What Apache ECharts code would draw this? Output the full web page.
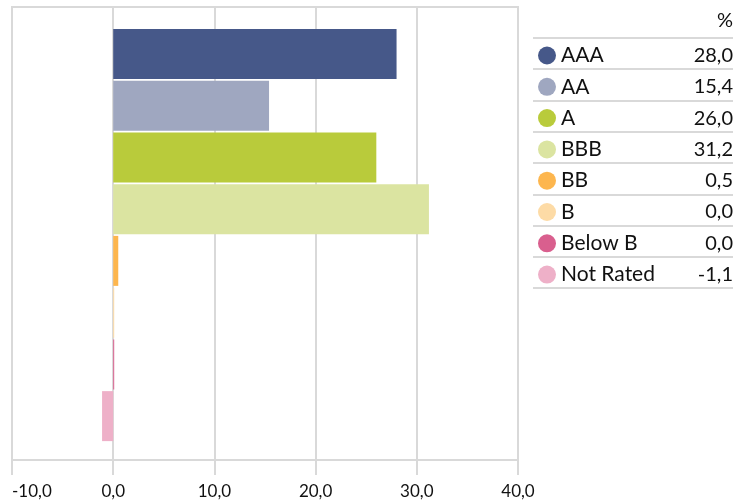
<!DOCTYPE html>
<html>
<head>
<meta charset="utf-8">
<script src="https://cdn.jsdelivr.net/npm/echarts@6/dist/echarts.min.js"></script>
<style>
  html, body { margin: 0; padding: 0; background: #fff; }
  #main { width: 749px; height: 502px; }
</style>
</head>
<body>
<div id="main"></div>
<script>
const categories = ['AAA', 'AA', 'A', 'BBB', 'BB', 'B', 'Below B', 'Not Rated']
const values = [28.0, 15.4, 26.0, 31.2, 0.5, 0.0, 0.0, -1.1]
const colors = ['#465889', '#9fa7c0', '#b9cb3b', '#dbe4a1', '#fdb64e', '#fddba6', '#d95f8e', '#eeb0c8']
const xTicks = [-10, 0, 10, 20, 30, 40]

const fmt = v => v.toFixed(1).replace('.', ',')

const chart = echarts.init(document.getElementById('main'))

// one series per rating so the legend can list them
const series = categories.map((name, i) => ({
  name: name,
  type: 'bar',
  stack: 'all',
  xAxisIndex: 1,
  yAxisIndex: 1,
  barWidth: 50,
  barMinHeight: 1,
  itemStyle: { color: colors[i] },
  data: categories.map((c, j) => (j === i ? values[i] : '-'))
}))

// separator lines of the legend table
const rowTop = 38
const rowH = 31.3
const lines = []
for (let i = 0; i <= categories.length; i++) {
  const y = Math.round(rowTop + i * rowH)
  lines.push({
    type: 'line',
    shape: { x1: 533, y1: y, x2: 733, y2: y },
    style: { stroke: '#d9d9d9', lineWidth: 2 }
  })
}

const option = {
  animation: false,
  textStyle: { fontFamily: 'Lato' },
  grid: [
    { left: 12, right: 231, top: 7, bottom: 42, show: true, borderColor: '#d9d9d9', borderWidth: 2 },
    { left: 12, right: 231, top: 28, bottom: 60 }
  ],
  xAxis: [
    {
      gridIndex: 0,
      type: 'value',
      min: xTicks[0],
      max: xTicks[xTicks.length - 1],
      interval: 10,
      axisLine: { show: true, lineStyle: { color: '#d9d9d9', width: 2 } },
      axisTick: { show: true, length: 15, lineStyle: { color: '#d9d9d9', width: 2 } },
      splitLine: { show: true, lineStyle: { color: '#d9d9d9', width: 2 } },
      axisLabel: {
        formatter: v => fmt(v),
        fontSize: 17,
        color: '#111',
        margin: 23,
        alignMinLabel: 'left',
        showMinLabel: true,
        showMaxLabel: true
      }
    },
    {
      gridIndex: 1,
      type: 'value',
      min: xTicks[0],
      max: xTicks[xTicks.length - 1],
      show: false,
      splitLine: { show: false }
    }
  ],
  yAxis: [
    { gridIndex: 0, type: 'value', show: false, splitLine: { show: false } },
    { gridIndex: 1, type: 'category', data: categories, inverse: true, show: false }
  ],
  legend: {
    orient: 'vertical',
    left: 533,
    top: 40,
    icon: 'circle',
    itemWidth: 18,
    itemHeight: 18,
    itemGap: 10.3,
    selectedMode: false,
    data: categories,
    formatter: name => '{n|' + name + '}{v|' + fmt(values[categories.indexOf(name)]) + '}',
    textStyle: {
      rich: {
        n: { width: 130, fontSize: 21, lineHeight: 20, color: '#111', fontFamily: 'Lato' },
        v: { width: 42, align: 'right', fontSize: 20, lineHeight: 20, color: '#111', fontFamily: 'Lato' }
      }
    }
  },
  graphic: lines.concat([
    {
      type: 'text',
      right: 16,
      top: 11,
      style: { text: '%', fontSize: 20, fill: '#111', fontFamily: 'Lato' }
    }
  ]),
  series: series
}

chart.setOption(option)
</script>
</body>
</html>
